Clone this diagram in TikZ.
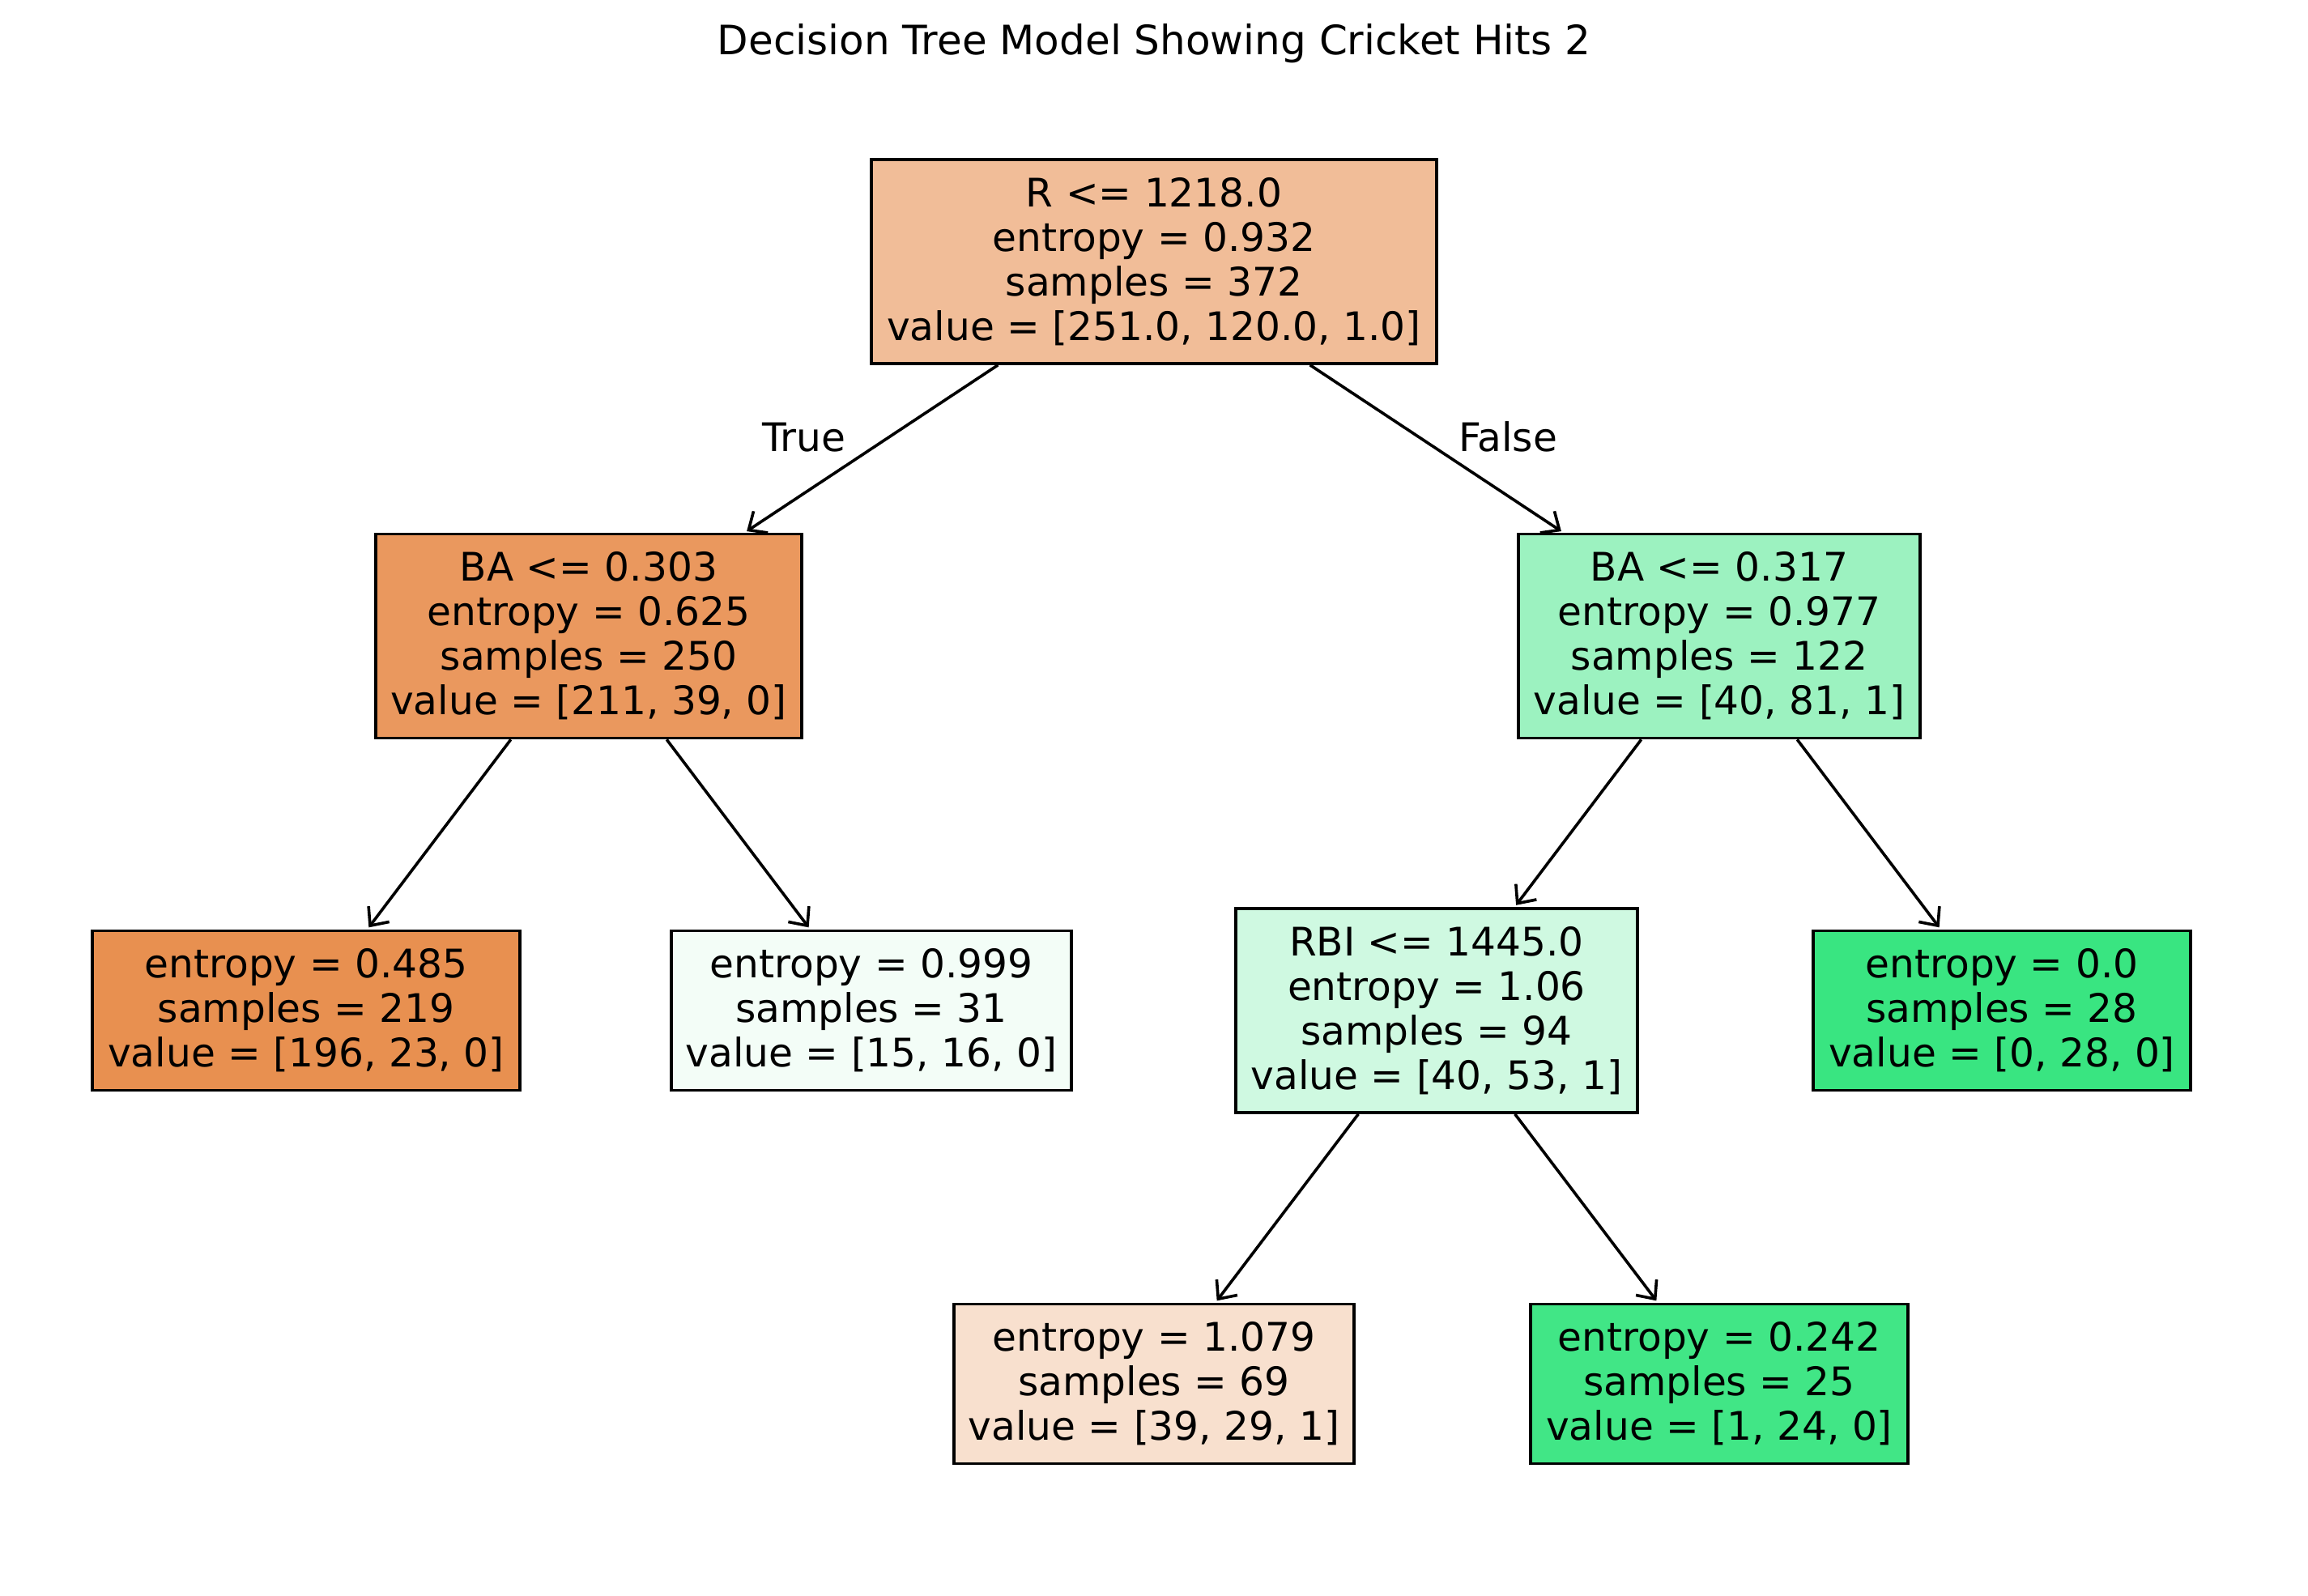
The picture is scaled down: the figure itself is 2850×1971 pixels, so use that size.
\documentclass[tikz,border=0pt]{standalone}
\usepackage{fontspec}
\setmainfont{DejaVu Sans}
\usetikzlibrary{arrows.meta}
\definecolor{cRoot}{RGB}{241,189,152}
\definecolor{cBAa}{RGB}{234,152,94}
\definecolor{cLeafA}{RGB}{232,144,80}
\definecolor{cLeafB}{RGB}{243,253,247}
\definecolor{cBAb}{RGB}{156,242,192}
\definecolor{cRBI}{RGB}{207,249,225}
\definecolor{cLeafC}{RGB}{57,229,129}
\definecolor{cLeafD}{RGB}{248,224,206}
\definecolor{cLeafE}{RGB}{65,230,134}
\begin{document}
\begin{tikzpicture}[x=0.5pt,y=-0.5pt,
  tnode/.style={draw=black, line width=1.8pt, align=center,
    font=\fontsize{24.3}{27.5}\selectfont, inner sep=0pt, minimum height=126pt},
  leafnode/.style={tnode, minimum height=98.5pt},
  edge/.style={line width=1.8pt, -{Straight Barb[length=9pt,width=16pt]}, shorten >=1.5pt},
  lbl/.style={font=\fontsize{24.3}{27.5}\selectfont, anchor=base, inner sep=0pt}]
\useasboundingbox (0,0) rectangle (2850,1971);
\node[lbl, font=\fontsize{25}{28}\selectfont] (title) at (1425,67) {Decision Tree Model Showing Cricket Hits 2};

\node[tnode, fill=cRoot, minimum width=349pt] (root) at (1425,323)
  {R <= 1218.0\\entropy = 0.932\\samples = 372\\value = [251.0, 120.0, 1.0]};
\node[tnode, fill=cBAa, minimum width=263pt] (baa) at (727,785.5)
  {BA <= 0.303\\entropy = 0.625\\samples = 250\\value = [211, 39, 0]};
\node[tnode, fill=cBAb, minimum width=248pt] (bab) at (2123,785.5)
  {BA <= 0.317\\entropy = 0.977\\samples = 122\\value = [40, 81, 1]};
\node[leafnode, fill=cLeafA, minimum width=264pt] (leafa) at (378,1248)
  {entropy = 0.485\\samples = 219\\value = [196, 23, 0]};
\node[leafnode, fill=cLeafB, minimum width=247pt] (leafb) at (1076,1248)
  {entropy = 0.999\\samples = 31\\value = [15, 16, 0]};
\node[tnode, fill=cRBI, minimum width=248pt] (rbi) at (1774,1248)
  {RBI <= 1445.0\\entropy = 1.06\\samples = 94\\value = [40, 53, 1]};
\node[leafnode, fill=cLeafC, minimum width=233pt] (leafc) at (2472,1248)
  {entropy = 0.0\\samples = 28\\value = [0, 28, 0]};
\node[leafnode, fill=cLeafD, minimum width=247pt] (leafd) at (1425,1709)
  {entropy = 1.079\\samples = 69\\value = [39, 29, 1]};
\node[leafnode, fill=cLeafE, minimum width=233pt] (leafe) at (2123,1709)
  {entropy = 0.242\\samples = 25\\value = [1, 24, 0]};

\draw[edge] (root) -- (baa);
\draw[edge] (root) -- (bab);
\draw[edge] (baa) -- (leafa);
\draw[edge] (baa) -- (leafb);
\draw[edge] (bab) -- (rbi);
\draw[edge] (bab) -- (leafc);
\draw[edge] (rbi) -- (leafd);
\draw[edge] (rbi) -- (leafe);

\node[lbl] (truelbl) at (993,557) {True};
\node[lbl] (falselbl) at (1862,557) {False};
\end{tikzpicture}
\end{document}
